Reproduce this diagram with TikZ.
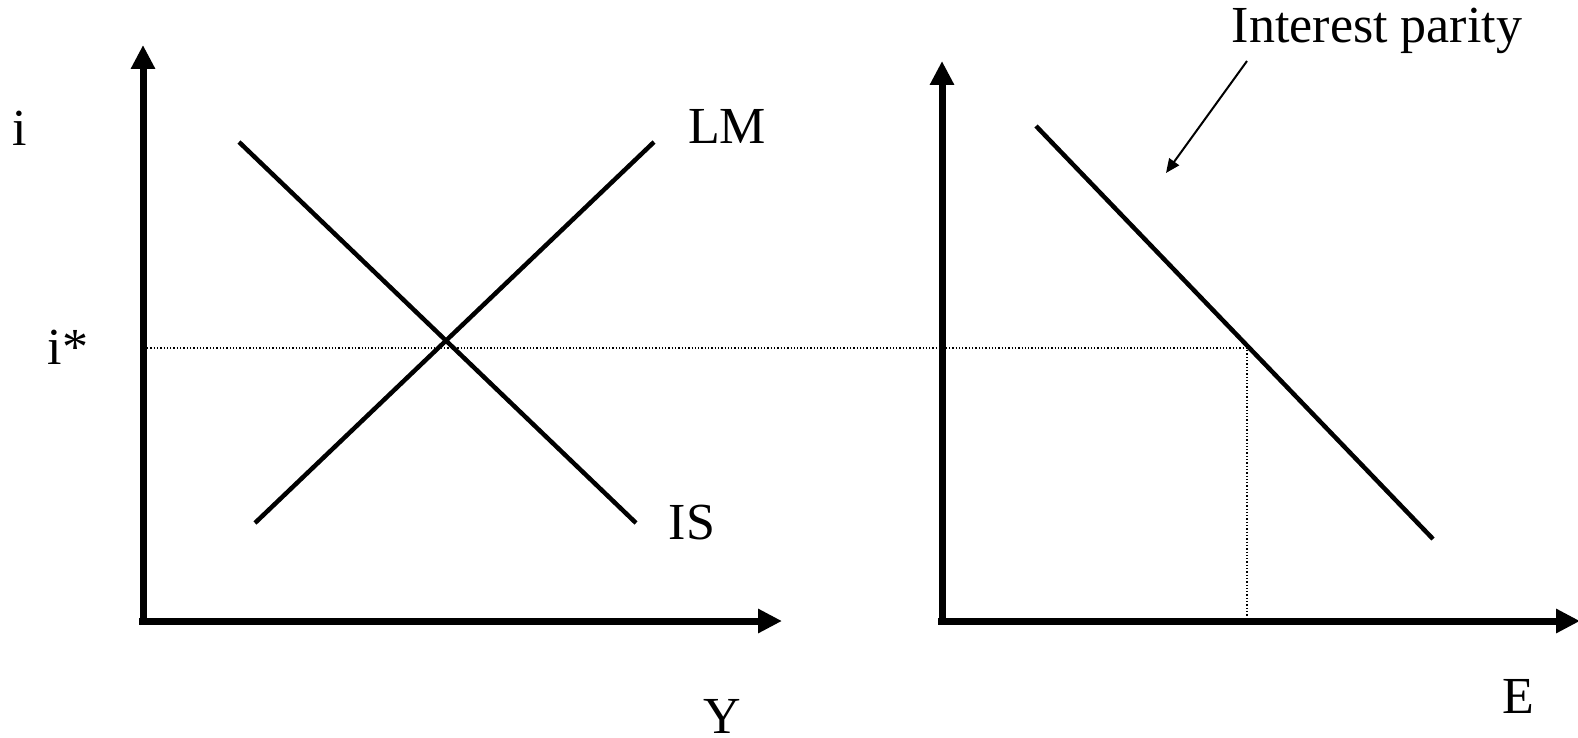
\documentclass[tikz,border=0pt]{standalone}
\usepackage{fontspec}
\setmainfont{Liberation Serif}
\usetikzlibrary{arrows.meta}
\begin{document}
\begin{tikzpicture}[x=1pt,y=-1pt,
  axis/.style={line width=7pt,-{Triangle[length=24pt,width=23pt]}},
  curve/.style={line width=4.5pt},
  guide/.style={line width=1.3pt,dotted},
  pointer/.style={line width=2pt,-{Triangle[length=14pt,width=12pt]}},
  lbl/.style={font=\fontsize{52}{60}\selectfont,inner sep=0pt}]
\useasboundingbox (0,0) rectangle (1578,738);
% left diagram
\coordinate (Lv0) at (143,625);
\coordinate (Lvt) at (143,45);
\coordinate (Lh0) at (139,621);
\coordinate (Lht) at (782,621);
\draw[axis] (Lv0) -- (Lvt);
\draw[axis] (Lh0) -- (Lht);
% right diagram
\coordinate (Rv0) at (942,625);
\coordinate (Rvt) at (942,61);
\coordinate (Rh0) at (938,621);
\coordinate (Rht) at (1580,621);
\draw[axis] (Rv0) -- (Rvt);
\draw[axis] (Rh0) -- (Rht);
% curves
\coordinate (IS1) at (239,142);
\coordinate (IS2) at (636,523);
\coordinate (LM1) at (255,523);
\coordinate (LM2) at (654,142);
\draw[curve] (IS1) -- (IS2);
\draw[curve] (LM1) -- (LM2);
\coordinate (IP1) at (1036,126);
\coordinate (IP2) at (1433,539);
\draw[curve] (IP1) -- (IP2);
% guides
\coordinate (G0) at (147,348);
\coordinate (G1) at (1247,348);
\coordinate (G2) at (1247,617);
\draw[guide] (G0) -- (G1) -- (G2);
% labels
\node[lbl] (i) at (20,128) {i};
\node[lbl] (istar) at (68,347) {i*};
\node[lbl] (LM) at (727,126) {LM};
\node[lbl] (IS) at (692,523) {IS};
\node[lbl] (Y) at (722,716) {Y};
\node[lbl] (E) at (1518,696) {E};
\node[lbl] (IPL) at (1377,31) {Interest parity};
\coordinate (P0) at (1247,61);
\coordinate (P1) at (1166,173);
\draw[pointer] (P0) -- (P1);
\end{tikzpicture}
\end{document}
